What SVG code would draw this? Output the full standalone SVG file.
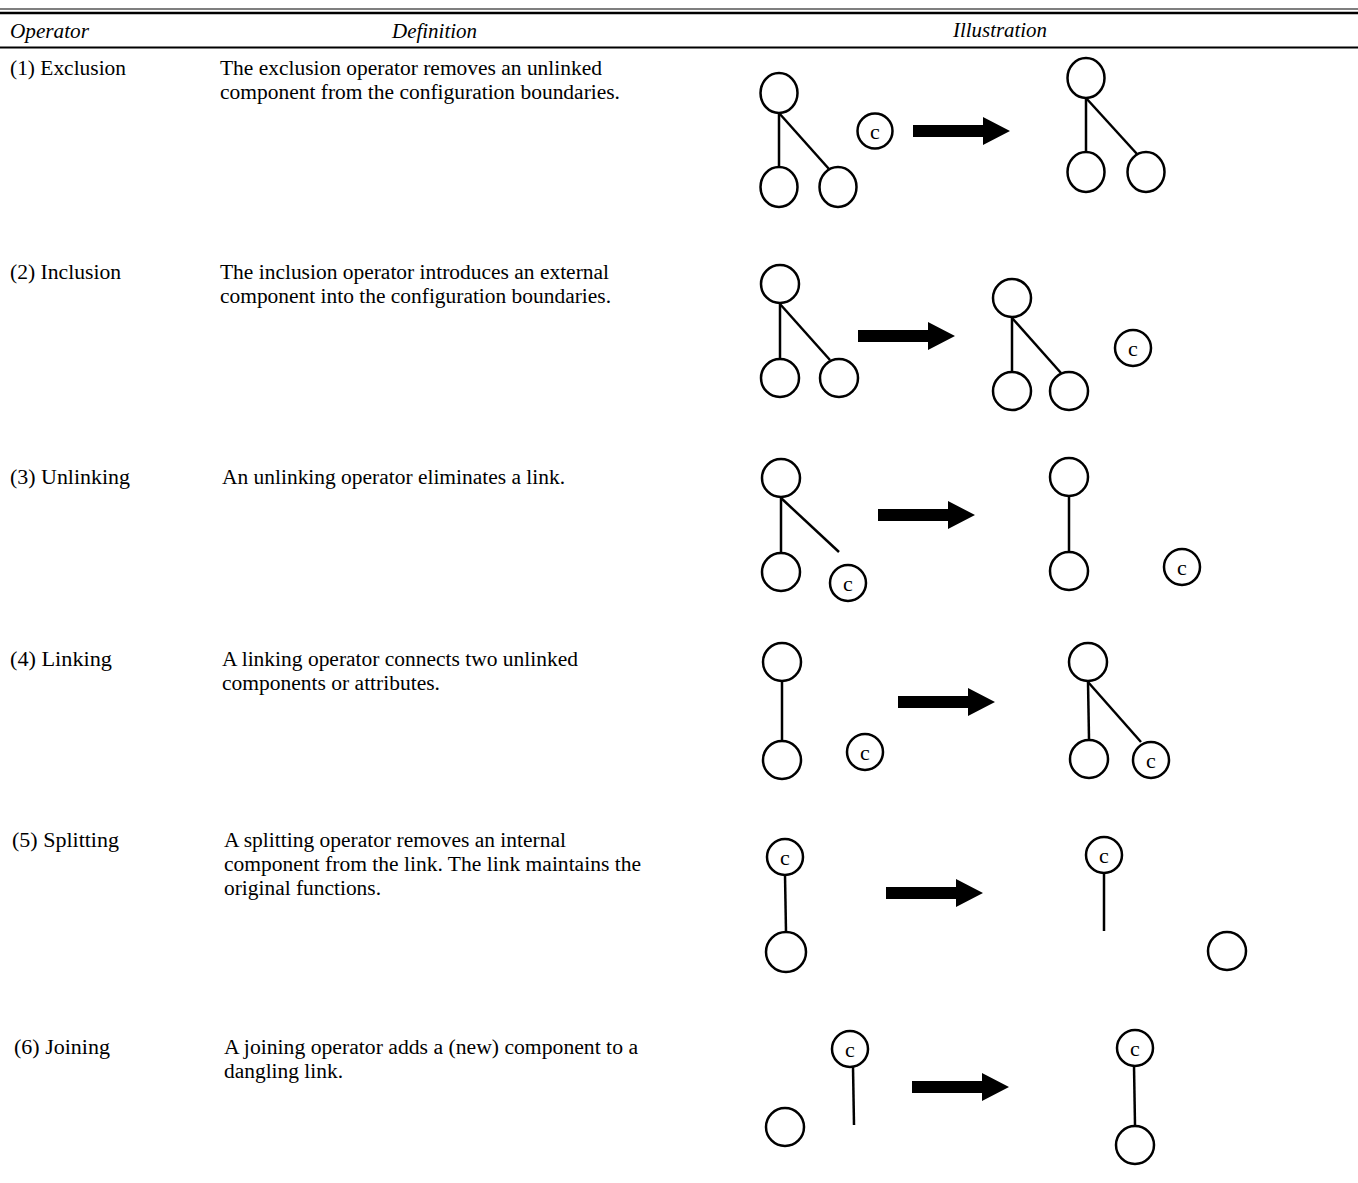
<svg xmlns="http://www.w3.org/2000/svg" width="1358" height="1183" viewBox="0 0 1358 1183">
<style>
  .t { font-family: "Liberation Serif", "Times New Roman", serif; font-size: 20px; fill: #000; }
  .h { font-family: "Liberation Serif", "Times New Roman", serif; font-size: 20px; font-style: italic; fill: #000; }
  .n { fill: #fff; stroke: #000; stroke-width: 2.5; }
  .l { stroke: #000; stroke-width: 2.5; fill: none; }
  .c { font-family: "Liberation Serif", "Times New Roman", serif; font-size: 22px; fill: #000; text-anchor: middle; }
  .ar { fill: #000; }
</style>
<defs>
  <path id="arrow" d="M0,-6 H70 V-14 L97,0 L70,14 V6 H0 Z"/>
</defs>
<rect width="1358" height="1183" fill="#fff"/>
<g id="table-rules">
  <line x1="0" y1="9" x2="1358" y2="9" stroke="#000" stroke-width="1.2"/>
  <line x1="0" y1="13" x2="1358" y2="13" stroke="#000" stroke-width="2.5"/>
  <line x1="0" y1="47.5" x2="1358" y2="47.5" stroke="#000" stroke-width="2"/>
</g>
<g id="header">
  <text class="h" x="10" y="38" textLength="79" lengthAdjust="spacingAndGlyphs">Operator</text>
  <text class="h" x="392" y="38" textLength="85" lengthAdjust="spacingAndGlyphs">Definition</text>
  <text class="h" x="953" y="37" textLength="94" lengthAdjust="spacingAndGlyphs">Illustration</text>
</g>
<g id="row1-text">
  <text class="t" x="10" y="75" textLength="116" lengthAdjust="spacingAndGlyphs">(1) Exclusion</text>
  <text class="t" x="220" y="75" textLength="382" lengthAdjust="spacingAndGlyphs">The exclusion operator removes an unlinked</text>
  <text class="t" x="220" y="99" textLength="400" lengthAdjust="spacingAndGlyphs">component from the configuration boundaries.</text>
</g>
<g id="row2-text">
  <text class="t" x="10" y="279" textLength="111" lengthAdjust="spacingAndGlyphs">(2) Inclusion</text>
  <text class="t" x="220" y="279" textLength="389" lengthAdjust="spacingAndGlyphs">The inclusion operator introduces an external</text>
  <text class="t" x="220" y="303" textLength="391" lengthAdjust="spacingAndGlyphs">component into the configuration boundaries.</text>
</g>
<g id="row3-text">
  <text class="t" x="10" y="484" textLength="120" lengthAdjust="spacingAndGlyphs">(3) Unlinking</text>
  <text class="t" x="222" y="484" textLength="343" lengthAdjust="spacingAndGlyphs">An unlinking operator eliminates a link.</text>
</g>
<g id="row4-text">
  <text class="t" x="10" y="666" textLength="102" lengthAdjust="spacingAndGlyphs">(4) Linking</text>
  <text class="t" x="222" y="666" textLength="356" lengthAdjust="spacingAndGlyphs">A linking operator connects two unlinked</text>
  <text class="t" x="222" y="690" textLength="218" lengthAdjust="spacingAndGlyphs">components or attributes.</text>
</g>
<g id="row5-text">
  <text class="t" x="12" y="847" textLength="107" lengthAdjust="spacingAndGlyphs">(5) Splitting</text>
  <text class="t" x="224" y="847" textLength="342" lengthAdjust="spacingAndGlyphs">A splitting operator removes an internal</text>
  <text class="t" x="224" y="871" textLength="417" lengthAdjust="spacingAndGlyphs">component from the link. The link maintains the</text>
  <text class="t" x="224" y="895" textLength="157" lengthAdjust="spacingAndGlyphs">original functions.</text>
</g>
<g id="row6-text">
  <text class="t" x="14" y="1054" textLength="96" lengthAdjust="spacingAndGlyphs">(6) Joining</text>
  <text class="t" x="224" y="1054" textLength="414" lengthAdjust="spacingAndGlyphs">A joining operator adds a (new) component to a</text>
  <text class="t" x="224" y="1078" textLength="119" lengthAdjust="spacingAndGlyphs">dangling link.</text>
</g>

<g id="connectors">
  <!-- row 1 -->
  <line class="l" x1="779" y1="113" x2="779" y2="167"/>
  <line class="l" x1="779" y1="113" x2="829" y2="169"/>
  <line class="l" x1="1086" y1="98" x2="1086" y2="152"/>
  <line class="l" x1="1086" y1="98" x2="1137" y2="154"/>
  <use href="#arrow" class="ar" x="913" y="131"/>
  <!-- row 2 -->
  <line class="l" x1="780" y1="304" x2="780" y2="358"/>
  <line class="l" x1="780" y1="304" x2="830" y2="360"/>
  <line class="l" x1="1012" y1="318" x2="1012" y2="371"/>
  <line class="l" x1="1012" y1="318" x2="1061" y2="373"/>
  <use href="#arrow" class="ar" x="858" y="336"/>
  <!-- row 3 -->
  <line class="l" x1="781" y1="498" x2="781" y2="552"/>
  <line class="l" x1="781" y1="498" x2="839" y2="552"/>
  <line class="l" x1="1069" y1="497" x2="1069" y2="551"/>
  <use href="#arrow" class="ar" x="878" y="515"/>
  <!-- row 4 -->
  <line class="l" x1="782" y1="682" x2="782" y2="740"/>
  <line class="l" x1="1088" y1="682" x2="1089" y2="739"/>
  <line class="l" x1="1088" y1="682" x2="1141" y2="742"/>
  <use href="#arrow" class="ar" x="898" y="702"/>
  <!-- row 5 -->
  <line class="l" x1="785" y1="875" x2="786" y2="932"/>
  <line class="l" x1="1104" y1="873" x2="1104" y2="931"/>
  <use href="#arrow" class="ar" x="886" y="893"/>
  <!-- row 6 -->
  <line class="l" x1="853" y1="1067" x2="854" y2="1125"/>
  <line class="l" x1="1134" y1="1066" x2="1135" y2="1125"/>
  <use href="#arrow" class="ar" x="912" y="1087"/>
</g>

<g id="row1-before">
  <ellipse class="n" cx="779" cy="93" rx="18.5" ry="20"/>
  <ellipse class="n" cx="779" cy="187" rx="18.5" ry="20"/>
  <ellipse class="n" cx="838" cy="187" rx="18.5" ry="20"/>
  <circle class="n" cx="875" cy="131" r="17.5"/>
  <text class="c" x="875" y="139">c</text>
</g>
<g id="row1-after">
  <ellipse class="n" cx="1086" cy="78" rx="18.5" ry="20"/>
  <ellipse class="n" cx="1086" cy="172" rx="18.5" ry="20"/>
  <ellipse class="n" cx="1146" cy="172" rx="18.5" ry="20"/>
</g>

<g id="row2-before">
  <circle class="n" cx="780" cy="284" r="19"/>
  <circle class="n" cx="780" cy="378" r="19"/>
  <circle class="n" cx="839" cy="378" r="19"/>
</g>
<g id="row2-after">
  <circle class="n" cx="1012" cy="298" r="19"/>
  <circle class="n" cx="1012" cy="391" r="19"/>
  <circle class="n" cx="1069" cy="391" r="19"/>
  <circle class="n" cx="1133" cy="348" r="18"/>
  <text class="c" x="1133" y="356">c</text>
</g>

<g id="row3-before">
  <circle class="n" cx="781" cy="478" r="19"/>
  <circle class="n" cx="781" cy="572" r="19"/>
  <circle class="n" cx="848" cy="583" r="18"/>
  <text class="c" x="848" y="591">c</text>
</g>
<g id="row3-after">
  <circle class="n" cx="1069" cy="477" r="19"/>
  <circle class="n" cx="1069" cy="571" r="19"/>
  <circle class="n" cx="1182" cy="567" r="18"/>
  <text class="c" x="1182" y="575">c</text>
</g>

<g id="row4-before">
  <circle class="n" cx="782" cy="662" r="19"/>
  <circle class="n" cx="782" cy="760" r="19"/>
  <circle class="n" cx="865" cy="752" r="18"/>
  <text class="c" x="865" y="760">c</text>
</g>
<g id="row4-after">
  <circle class="n" cx="1088" cy="662" r="19"/>
  <circle class="n" cx="1089" cy="759" r="19"/>
  <circle class="n" cx="1151" cy="760" r="18"/>
  <text class="c" x="1151" y="768">c</text>
</g>

<g id="row5-before">
  <circle class="n" cx="785" cy="857" r="18"/>
  <text class="c" x="785" y="865">c</text>
  <circle class="n" cx="786" cy="952" r="20"/>
</g>
<g id="row5-after">
  <circle class="n" cx="1104" cy="855" r="18"/>
  <text class="c" x="1104" y="863">c</text>
  <circle class="n" cx="1227" cy="951" r="19"/>
</g>

<g id="row6-before">
  <circle class="n" cx="785" cy="1127" r="19"/>
  <circle class="n" cx="850" cy="1049" r="18"/>
  <text class="c" x="850" y="1057">c</text>
</g>
<g id="row6-after">
  <circle class="n" cx="1135" cy="1048" r="18"/>
  <text class="c" x="1135" y="1056">c</text>
  <circle class="n" cx="1135" cy="1145" r="19"/>
</g>
</svg>
